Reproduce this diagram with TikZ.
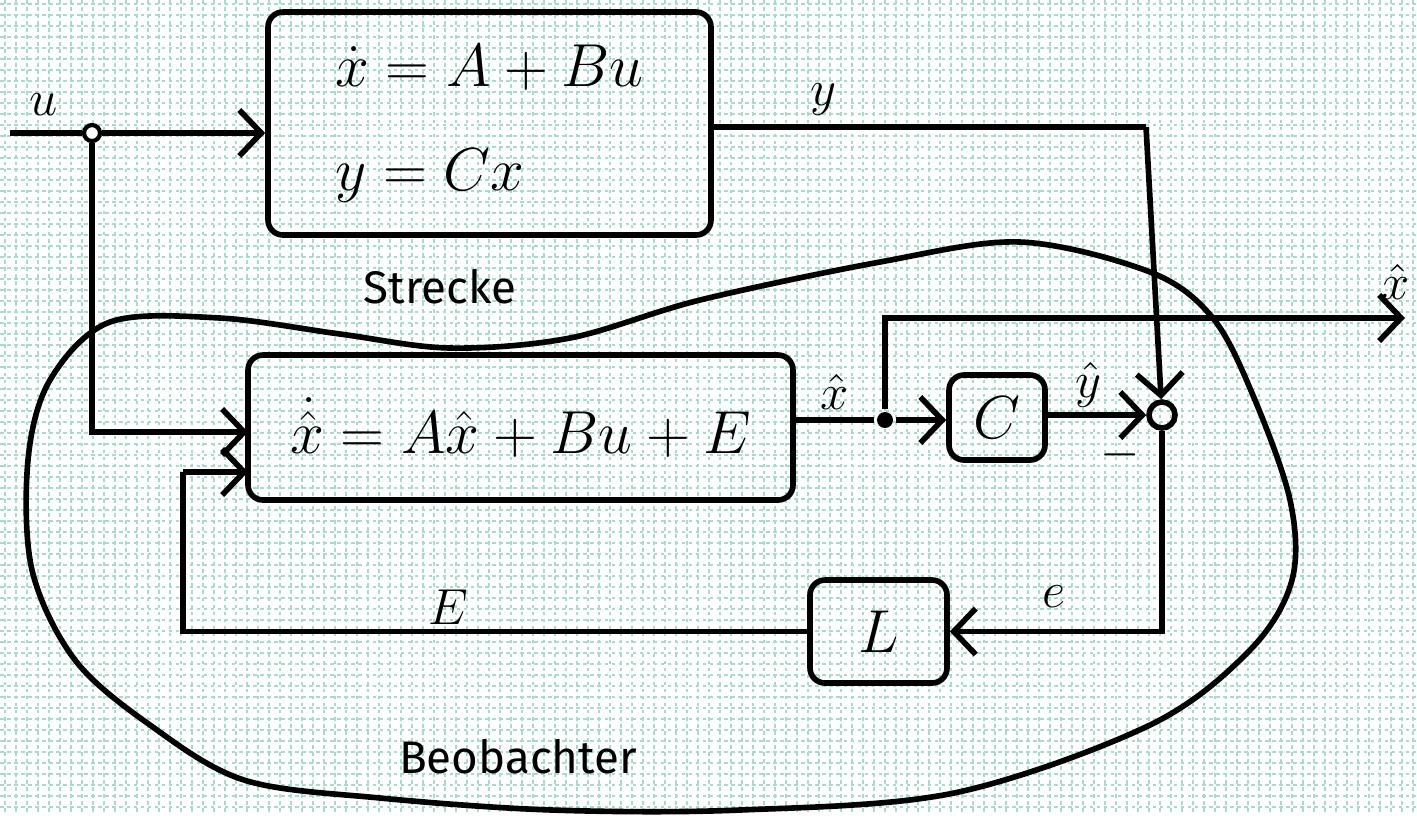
\documentclass[tikz,border=0pt]{standalone}
\usepackage{fontspec}
\usepackage{amsmath}
\setmainfont{Fira Sans}
\usetikzlibrary{arrows.meta,positioning,calc}
\definecolor{gridmint}{RGB}{165,222,200}

\begin{document}
\begin{tikzpicture}[x=0.1mm,y=-0.1mm,
  line width=1.6pt,
  blk/.style={draw,rounded corners=1.5mm,line width=1.6pt},
  arr/.style={-{Straight Barb[length=2.2mm,width=4.6mm,line width=1.6pt]}},
  lbl/.style={font=\fontsize{15}{17}\selectfont},
  eqn/.style={font=\fontsize{17}{21}\selectfont},
  gridline/.style={gridmint,line width=0.5pt,dash pattern=on 1pt off 1pt}
]
\useasboundingbox (0,0) rectangle (1417,815);
% Paper grid
\foreach \gx in {5,16,...,1417} \draw[gridline] (\gx,0) -- (\gx,815);
\foreach \gy in {4,15,...,815} \draw[gridline] (0,\gy) -- (1417,\gy);

% Blocks
\node[blk,minimum width=44.3mm,minimum height=22.3mm,align=left,eqn] (strecke) at (489.5,123.5)
  {$\dot{x} = A + Bu$\\[3mm]$y = Cx$};
\node[blk,minimum width=54.5mm,minimum height=14.5mm,eqn] (obs) at (520.5,427.5)
  {$\dot{\hat{x}} = A\hat{x} + Bu + E$};
\node[blk,minimum width=9.6mm,minimum height=8.5mm,eqn] (cbox) at (997,417.5) {$C$};
\node[blk,minimum width=13.7mm,minimum height=10.3mm,eqn] (lbox) at (878.5,631.5) {$L$};
\node[draw,circle,minimum size=2.6mm,inner sep=0pt] (sum) at (1162,415) {};

% Points
\coordinate (uin) at (10,133);
\node[draw,circle,fill=white,minimum size=1.6mm,inner sep=0pt,line width=1.2pt] (ujunc) at (92,133) {};
\node[circle,fill=black,minimum size=1.6mm,inner sep=0pt] (xjunc) at (885,420) {};
\coordinate (ycorner) at (1146,127);
\coordinate (uobs) at (248,432);
\coordinate (fbturn) at (183,472);
\coordinate (fbin) at (248,472);
\coordinate (xout) at (1405,318);

% Signals
\draw[arr] (uin) -- (ujunc) -- (strecke.west |- uin);
\draw (strecke.east |- ycorner) -- (ycorner);
\draw[arr] (ycorner) -- (sum);
\draw[arr] (ujunc) |- (uobs);
\draw (obs.east |- xjunc) -- (xjunc);
\draw[arr] (xjunc) -- (cbox.west |- xjunc);
\draw[arr] (xjunc) |- (xout);
\draw[arr] (cbox.east |- sum) -- (sum);
\draw[arr] (sum.south) |- (lbox.east);
\draw (lbox.west) -| (fbturn);
\draw[arr] (fbturn) -- (fbin);

% Observer outline
\draw plot[smooth cycle,tension=0.55] coordinates {
  (110,322) (220,318) (340,334) (450,348) (570,338) (700,300) (880,262)
  (1020,242) (1150,272) (1212,317) (1252,393) (1290,500) (1292,580)
  (1250,650) (1150,725) (954,793) (740,810) (552,810) (380,798) (244,780)
  (150,725) (75,660) (32,570) (28,460) (50,380)};

% Labels
\node[lbl] (ulab) at (44,105) {$u$};
\node[lbl] (ylab) at (823,100) {$y$};
\node[font=\fontsize{13}{15}\selectfont] (strlab) at (440,287) {Strecke};
\node[lbl] (xhlab) at (835,392) {$\hat{x}$};
\node[lbl] (yhlab) at (1088,385) {$\hat{y}$};
\node[lbl] (minus) at (1120,455) {$-$};
\node[lbl] (elab) at (1054,597) {$e$};
\node[lbl] (Elab) at (448,607) {$E$};
\node[lbl] (xolab) at (1396,282) {$\hat{x}$};
\node[font=\fontsize{13}{15}\selectfont] (beolab) at (518,757) {Beobachter};
\end{tikzpicture}
\end{document}
